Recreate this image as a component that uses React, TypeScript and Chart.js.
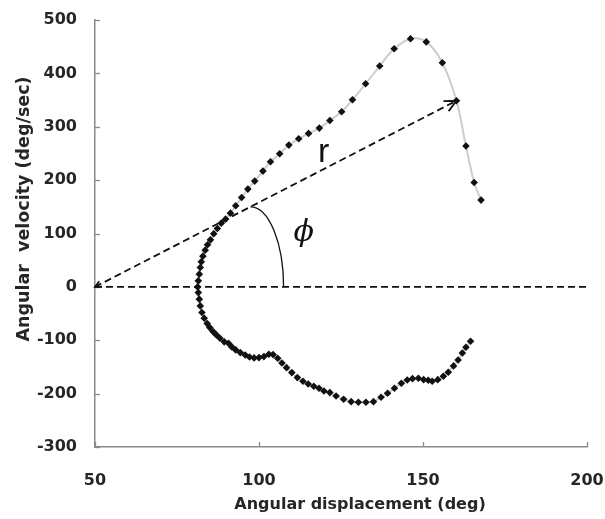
import React, { useEffect, useRef } from "react";
import { Chart, registerables } from "chart.js";

Chart.register(...registerables);

// Angular displacement (deg)
const displacement = [
  167.7, 165.6, 163.1, 160.2, 155.9, 151.0, 146.2, 141.2, 136.8, 132.5,
  128.5, 125.2, 121.6, 118.4, 115.1, 112.1, 109.1, 106.3, 103.5, 101.2,
  98.7, 96.6, 94.7, 92.9, 91.3, 89.8, 88.5, 87.3, 86.2, 85.2,
  84.3, 83.6, 82.9, 82.4, 82.1, 81.8, 81.5, 81.3,
  81.5, 81.8, 82.1, 82.6, 83.3, 84.2, 85.0, 86.0, 87.0, 88.1,
  89.4, 90.7, 91.7, 92.9, 94.3, 95.8, 97.1, 98.5, 100.0, 101.5,
  103.0, 104.3, 105.7, 107.0, 108.4, 110.0, 111.7, 113.4, 115.0, 116.7,
  118.3, 119.8, 121.6, 123.5, 125.8, 128.1, 130.3, 132.6, 134.9, 137.2,
  139.2, 141.3, 143.4, 145.2, 146.8, 148.6, 150.2, 151.6, 152.8, 154.5,
  156.2, 157.7, 159.3, 160.7, 162.0, 163.1, 164.5,
];

// Angular velocity (deg/sec)
const velocity = [
  162.6, 195.6, 264, 348.75, 420, 459, 465, 446, 413.8, 380.6,
  350.6, 328, 311.8, 297.5, 287.5, 277.5, 265.6, 249.4, 234.4, 216.9,
  198.2, 183.2, 167.4, 151.9, 138.1, 126.9, 119.4, 109.3, 99.4, 88.1,
  78.8, 68.8, 57.6, 46.9, 36.2, 23.8, 11.3, 0,
  -10.7, -23, -35.6, -48.1, -58.8, -68.8, -76.3, -83.8, -90, -96.3,
  -103, -105.6, -112.5, -118.1, -123.1, -127.5, -131.3, -133.1, -132.5, -130.6,
  -126.3, -126.9, -133.8, -142.5, -151.3, -160.6, -170, -176.9, -181.9, -186.3,
  -190, -195, -198.1, -204.4, -210.6, -215, -216.2, -216.2, -215, -206.9,
  -199.4, -190, -180.6, -174.4, -171.9, -171.3, -173.8, -175, -176.9, -173.8,
  -167.5, -160, -148.1, -136.9, -123.8, -113.1, -101.9,
];

const xMin = 50;
const xMax = 200;
const xStep = 50;
const yMin = -300;
const yMax = 500;
const yStep = 100;

const xTitle = "Angular displacement (deg)";
const yTitle = "Angular  velocity (deg/sec)";

// annotation geometry, in data units
const rOrigin = [50, 0];
const rEnd = [160.2, 348.75];
const baselineEnd = [200, 0];
const phiArcCenter = [97.4, 0];
const phiArcTopY = 150;
const phiArcRightX = 107.5;
const rLabel = { x: 119.7, y: 252, text: "r" };
const phiLabel = { x: 113.6, y: 100, text: "\u03D5" };

const AXIS_COLOR = "#8a8a8a";
const TEXT_COLOR = "#262626";
const FONT_FAMILY = "'DejaVu Sans', sans-serif";

const overlayPlugin = {
  id: "overlay",
  afterDatasetsDraw(chart: any) {
    const ctx = chart.ctx;
    const xs = chart.scales.x;
    const ys = chart.scales.y;
    const area = chart.chartArea;
    const px = (v: number) => xs.getPixelForValue(v);
    const py = (v: number) => ys.getPixelForValue(v);

    ctx.save();
    // inside tick marks
    ctx.strokeStyle = AXIS_COLOR;
    ctx.lineWidth = 1.3;
    ys.ticks.forEach((t: any) => {
      const y = Math.round(py(t.value)) + 0.5;
      ctx.beginPath();
      ctx.moveTo(area.left, y);
      ctx.lineTo(area.left + 5, y);
      ctx.stroke();
    });
    xs.ticks.forEach((t: any) => {
      const x = Math.round(px(t.value)) + 0.5;
      ctx.beginPath();
      ctx.moveTo(x, area.bottom);
      ctx.lineTo(x, area.bottom - 5);
      ctx.stroke();
    });

    // dashed lines
    ctx.strokeStyle = "#111";
    ctx.lineWidth = 1.8;
    ctx.setLineDash([7, 4]);
    const ox = px(rOrigin[0]);
    const oy = py(rOrigin[1]);
    const ex = px(rEnd[0]);
    const ey = py(rEnd[1]);
    ctx.beginPath();
    ctx.moveTo(ox, oy);
    ctx.lineTo(ex, ey);
    ctx.stroke();
    ctx.beginPath();
    ctx.moveTo(ox, oy);
    ctx.lineTo(px(baselineEnd[0]), py(baselineEnd[1]));
    ctx.stroke();
    ctx.setLineDash([]);

    // arrow heads
    const ang = Math.atan2(ey - oy, ex - ox);
    const head = (x: number, y: number, a: number, len: number) => {
      ctx.beginPath();
      ctx.moveTo(x + len * Math.cos(a + Math.PI - 0.45), y + len * Math.sin(a + Math.PI - 0.45));
      ctx.lineTo(x, y);
      ctx.lineTo(x + len * Math.cos(a + Math.PI + 0.45), y + len * Math.sin(a + Math.PI + 0.45));
      ctx.stroke();
    };
    head(ex, ey, ang, 13);
    head(ox, oy, ang + Math.PI, 7);

    // phi arc
    const cx = px(phiArcCenter[0]);
    const cy = py(phiArcCenter[1]);
    const rx = px(phiArcRightX) - cx;
    const ry = cy - py(phiArcTopY);
    ctx.lineWidth = 1.3;
    ctx.beginPath();
    ctx.ellipse(cx, cy, rx, ry, 0, -Math.PI / 2, 0);
    ctx.stroke();

    // labels
    ctx.fillStyle = "#111";
    ctx.textAlign = "center";
    ctx.textBaseline = "middle";
    ctx.font = "34px 'Liberation Sans Narrow', 'Liberation Sans', sans-serif";
    ctx.fillText(rLabel.text, px(rLabel.x), py(rLabel.y));
    ctx.font = "italic 30px 'DejaVu Serif', serif";
    ctx.fillText(phiLabel.text, px(phiLabel.x), py(phiLabel.y));

    // axis titles
    ctx.fillStyle = TEXT_COLOR;
    ctx.font = `bold 16px ${FONT_FAMILY}`;
    ctx.fillText(xTitle, 360, 505);
    ctx.font = `bold 17.5px ${FONT_FAMILY}`;
    ctx.translate(24, 209);
    ctx.rotate(-Math.PI / 2);
    ctx.fillText(yTitle, 0, 0);
    ctx.restore();
  },
};

const zeroPadding = (s: any) => {
  s.paddingLeft = 0;
  s.paddingRight = 0;
  s.paddingTop = 0;
  s.paddingBottom = 0;
};

export default function App() {
  const ref = useRef<HTMLCanvasElement | null>(null);

  useEffect(() => {
    if (!ref.current) return;
    const points = displacement.map((x, i) => ({ x, y: velocity[i] }));
    const chart = new Chart(ref.current, {
      type: "scatter",
      data: {
        datasets: [
          {
            data: points,
            showLine: true,
            borderColor: "#cccccc",
            borderWidth: 2,
            tension: 0.35,
            pointStyle: "rectRot",
            pointRadius: 3.8,
            pointBackgroundColor: "#111",
            pointBorderColor: "#111",
            pointBorderWidth: 0,
          },
        ],
      },
      options: {
        responsive: false,
        animation: false,
        layout: { padding: { top: 20, right: 18, left: 0, bottom: 0 } },
        plugins: {
          legend: { display: false },
          tooltip: { enabled: false },
          title: { display: false },
        },
        scales: {
          x: {
            type: "linear",
            min: xMin,
            max: xMax,
            ticks: {
              stepSize: xStep,
              color: TEXT_COLOR,
              font: { family: FONT_FAMILY, size: 16, weight: "bold" },
              padding: 24,
            },
            grid: { display: false, drawTicks: false },
            border: { display: true, color: AXIS_COLOR, width: 1.5 },
            afterFit: (s: any) => {
              s.height = 72;
              zeroPadding(s);
            },
          },
          y: {
            type: "linear",
            min: yMin,
            max: yMax,
            ticks: {
              stepSize: yStep,
              color: TEXT_COLOR,
              font: { family: FONT_FAMILY, size: 16, weight: "bold" },
              padding: 18,
            },
            grid: { display: false, drawTicks: false },
            border: { display: true, color: AXIS_COLOR, width: 1.5 },
            afterFit: (s: any) => {
              s.width = 95;
              zeroPadding(s);
            },
          },
        },
      },
      plugins: [overlayPlugin],
    });
    return () => chart.destroy();
  }, []);

  return (
    <canvas
      ref={ref}
      width={605}
      height={519}
      style={{ position: "absolute", left: 0, top: 0, display: "block", background: "#fff" }}
    />
  );
}
